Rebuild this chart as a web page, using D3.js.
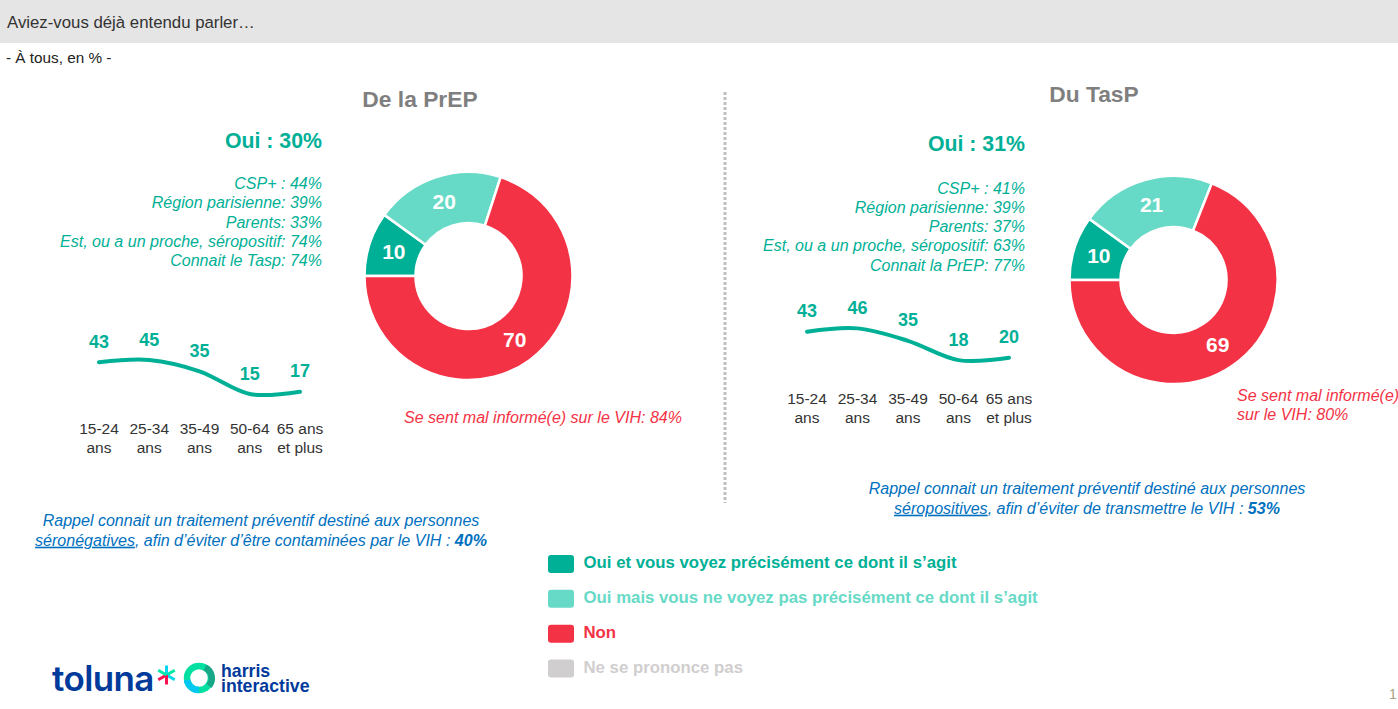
<!DOCTYPE html>
<html lang="fr">
<head>
<meta charset="utf-8">
<script src="https://cdn.jsdelivr.net/npm/d3@7"></script>
<style>
html, body { margin: 0; padding: 0; background: #fff; overflow: hidden; }
text { font-family: "Liberation Sans", Arial, sans-serif; }
</style>
</head>
<body>
<svg id="chart" width="1398" height="709"></svg>
<script>
var answers = ["Oui et vous voyez précisément ce dont il s’agit", "Oui mais vous ne voyez pas précisément ce dont il s’agit", "Non", "Ne se prononce pas"]
var colours = ["#00b096", "#66dac6", "#f43245", "#d0cece"]

var ages = ["15-24|ans", "25-34|ans", "35-49|ans", "50-64|ans", "65 ans|et plus"]

var prepDonut = [10, 20, 70]
var prepAges = [43, 45, 35, 15, 17]
var prepDetails = ["CSP+ : 44%", "Région parisienne: 39%", "Parents: 33%", "Est, ou a un proche, séropositif: 74%", "Connait le Tasp: 74%"]

var taspDonut = [10, 21, 69]
var taspAges = [43, 46, 35, 18, 20]
var taspDetails = ["CSP+ : 41%", "Région parisienne: 39%", "Parents: 37%", "Est, ou a un proche, séropositif: 63%", "Connait la PrEP: 77%"]

var svg = d3.select("#chart")

function addText(x, y, str, size, colour, opts) {
    opts = opts || {}
    return svg.append("text")
        .attr("x", x)
        .attr("y", y)
        .attr("text-anchor", opts.anchor || "start")
        .style("font-size", size + "px")
        .style("font-weight", opts.bold ? "bold" : "normal")
        .style("font-style", opts.italic ? "italic" : "normal")
        .style("fill", colour)
        .text(str)
}

// Header
svg.append("rect").attr("x", 0).attr("y", 0).attr("width", 1398).attr("height", 43).style("fill", "#e5e5e5")
addText(7, 28, "Aviez-vous déjà entendu parler…", 16.8, "#333333")
addText(6, 63, "- À tous, en % -", 15.3, "#222222")

// Separator between the two panels
svg.append("line")
    .attr("x1", 725).attr("y1", 92).attr("x2", 725).attr("y2", 503)
    .style("stroke", "#bfbfbf")
    .style("stroke-width", 3)
    .style("stroke-dasharray", "3 2")

function drawPanel(p) {
    addText(p.titleX, p.titleY, p.title, 22.8, "#7f7f7f", { anchor: "middle", bold: true })
    addText(p.textRight, p.ouiY, p.oui, 21.3, colours[0], { anchor: "end", bold: true })

    p.details.forEach(function(d, i) {
        addText(p.textRight, p.detailY + i * 19.3, d, 16.05, colours[0], { anchor: "end", italic: true })
    })

    // Donut, starting at 9 o'clock and going clockwise
    var pie = d3.pie().sort(null).startAngle(-Math.PI / 2).endAngle(Math.PI * 1.5)
    var arc = d3.arc().innerRadius(53).outerRadius(104)
    var donut = svg.append("g").attr("transform", "translate(" + p.cx + "," + p.cy + ")")

    donut.selectAll("path")
        .data(pie(p.donut))
        .enter().append("path")
        .attr("d", arc)
        .style("fill", function(d, i) { return colours[i] })
        .style("stroke", "#fff")
        .style("stroke-width", 2.5)

    donut.selectAll("text")
        .data(pie(p.donut))
        .enter().append("text")
        .attr("transform", function(d) { return "translate(" + arc.centroid(d) + ")" })
        .attr("dy", "0.36em")
        .attr("text-anchor", "middle")
        .style("font-size", "21px")
        .style("font-weight", "bold")
        .style("fill", "#fff")
        .text(function(d) { return d.data })

    // Age line
    var x = d3.scalePoint().domain(ages).range(p.lineX)
    var y = d3.scaleLinear().domain([15, 45]).range(p.lineY)
    var line = d3.line()
        .x(function(d, i) { return x(ages[i]) })
        .y(function(d) { return y(d) })
        .curve(d3.curveCatmullRom.alpha(0))

    svg.append("path")
        .datum(p.ageValues)
        .attr("d", line)
        .style("fill", "none")
        .style("stroke", colours[0])
        .style("stroke-width", 4)
        .style("stroke-linecap", "round")

    p.ageValues.forEach(function(v, i) {
        addText(x(ages[i]), y(v) - 14.5, v, 18, colours[0], { anchor: "middle", bold: true })
        ages[i].split("|").forEach(function(part, j) {
            addText(x(ages[i]), p.ageLabelY + j * 18.7, part, 15.5, "#333333", { anchor: "middle" })
        })
    })

    // Red note
    p.note.forEach(function(n, i) {
        addText(p.noteX, p.noteY + i * 19, n, 16.05, colours[2], { italic: true })
    })

    // Blue reminder, with the underlined word and the bold share
    addText(p.rappelX, p.rappelY, p.rappel[0], 16.05, "#0070c0", { anchor: "middle", italic: true })
    var second = addText(p.rappelX, p.rappelY + 19.7, "", 16.05, "#0070c0", { anchor: "middle", italic: true })
    second.append("tspan").style("text-decoration", "underline").text(p.rappel[1])
    second.append("tspan").text(p.rappel[2])
    second.append("tspan").style("font-weight", "bold").text(p.rappel[3])
}

drawPanel({
    title: "De la PrEP", titleX: 420, titleY: 107,
    oui: "Oui : 30%", ouiY: 147.5, textRight: 322,
    details: prepDetails, detailY: 189,
    donut: prepDonut, cx: 468.5, cy: 276,
    ageValues: prepAges, lineX: [99, 300], lineY: [394, 360], ageLabelY: 434,
    note: ["Se sent mal informé(e) sur le VIH: 84%"], noteX: 404, noteY: 423,
    rappel: ["Rappel connait un traitement préventif destiné aux personnes", "séronégatives", ", afin d’éviter d’être contaminées par le VIH : ", "40%"],
    rappelX: 261, rappelY: 526
})

drawPanel({
    title: "Du TasP", titleX: 1094, titleY: 102,
    oui: "Oui : 31%", ouiY: 151, textRight: 1025,
    details: taspDetails, detailY: 193.5,
    donut: taspDonut, cx: 1173.5, cy: 280,
    ageValues: taspAges, lineX: [807, 1009], lineY: [363.5, 329.5], ageLabelY: 404,
    note: ["Se sent mal informé(e)", "sur le VIH: 80%"], noteX: 1237, noteY: 401,
    rappel: ["Rappel connait un traitement préventif destiné aux personnes", "séropositives", ", afin d’éviter de transmettre le VIH : ", "53%"],
    rappelX: 1087, rappelY: 494
})

// Legend
var legendRow = d3.scalePoint().domain(answers).range([555, 659.5])
answers.forEach(function(a, i) {
    svg.append("rect")
        .attr("x", 548).attr("y", legendRow(a))
        .attr("width", 26).attr("height", 18).attr("rx", 3)
        .style("fill", colours[i])
    addText(583.5, legendRow(a) + 13, a, 16.8, colours[i], { bold: true })
})

// Logos
addText(52, 691, "toluna", 35, "#003a9b", { bold: true })
    .style("font-family", "Inter")
    .style("font-weight", 600)
    .style("letter-spacing", "-0.6px")
var star = svg.append("g").attr("transform", "translate(166.5,675)")
var starColours = ["#00d8f0", "#00e8a8", "#00d8f0", "#ff1050", "#ff1050", "#00e8a8"]
starColours.forEach(function(c, i) {
    star.append("line")
        .attr("x1", 0).attr("y1", 0).attr("x2", 0).attr("y2", -9.5)
        .attr("transform", "rotate(" + (i * 60) + ")")
        .style("stroke", c)
        .style("stroke-width", 3)
})
svg.append("circle").attr("cx", 199).attr("cy", 678).attr("r", 12)
    .style("fill", "none").style("stroke", "#00e0a0").style("stroke-width", 6.5)
svg.append("path").attr("d", "M187 680 A12 12 0 0 0 199 690").style("fill", "none").style("stroke", "#00c8f0").style("stroke-width", 6.5)
svg.append("path").attr("d", "M205 667.5 A12 12 0 0 1 209 686").style("fill", "none").style("stroke", "#18a888").style("stroke-width", 6.5)

var harris = addText(221, 677, "", 17.7, "#003a9b", { bold: true })
harris.append("tspan").attr("x", 221).text("harris")
harris.append("tspan").attr("x", 221).attr("dy", 15).text("interactive")

addText(1389, 699, "1", 14, "#a8a280")
</script>
</body>
</html>
